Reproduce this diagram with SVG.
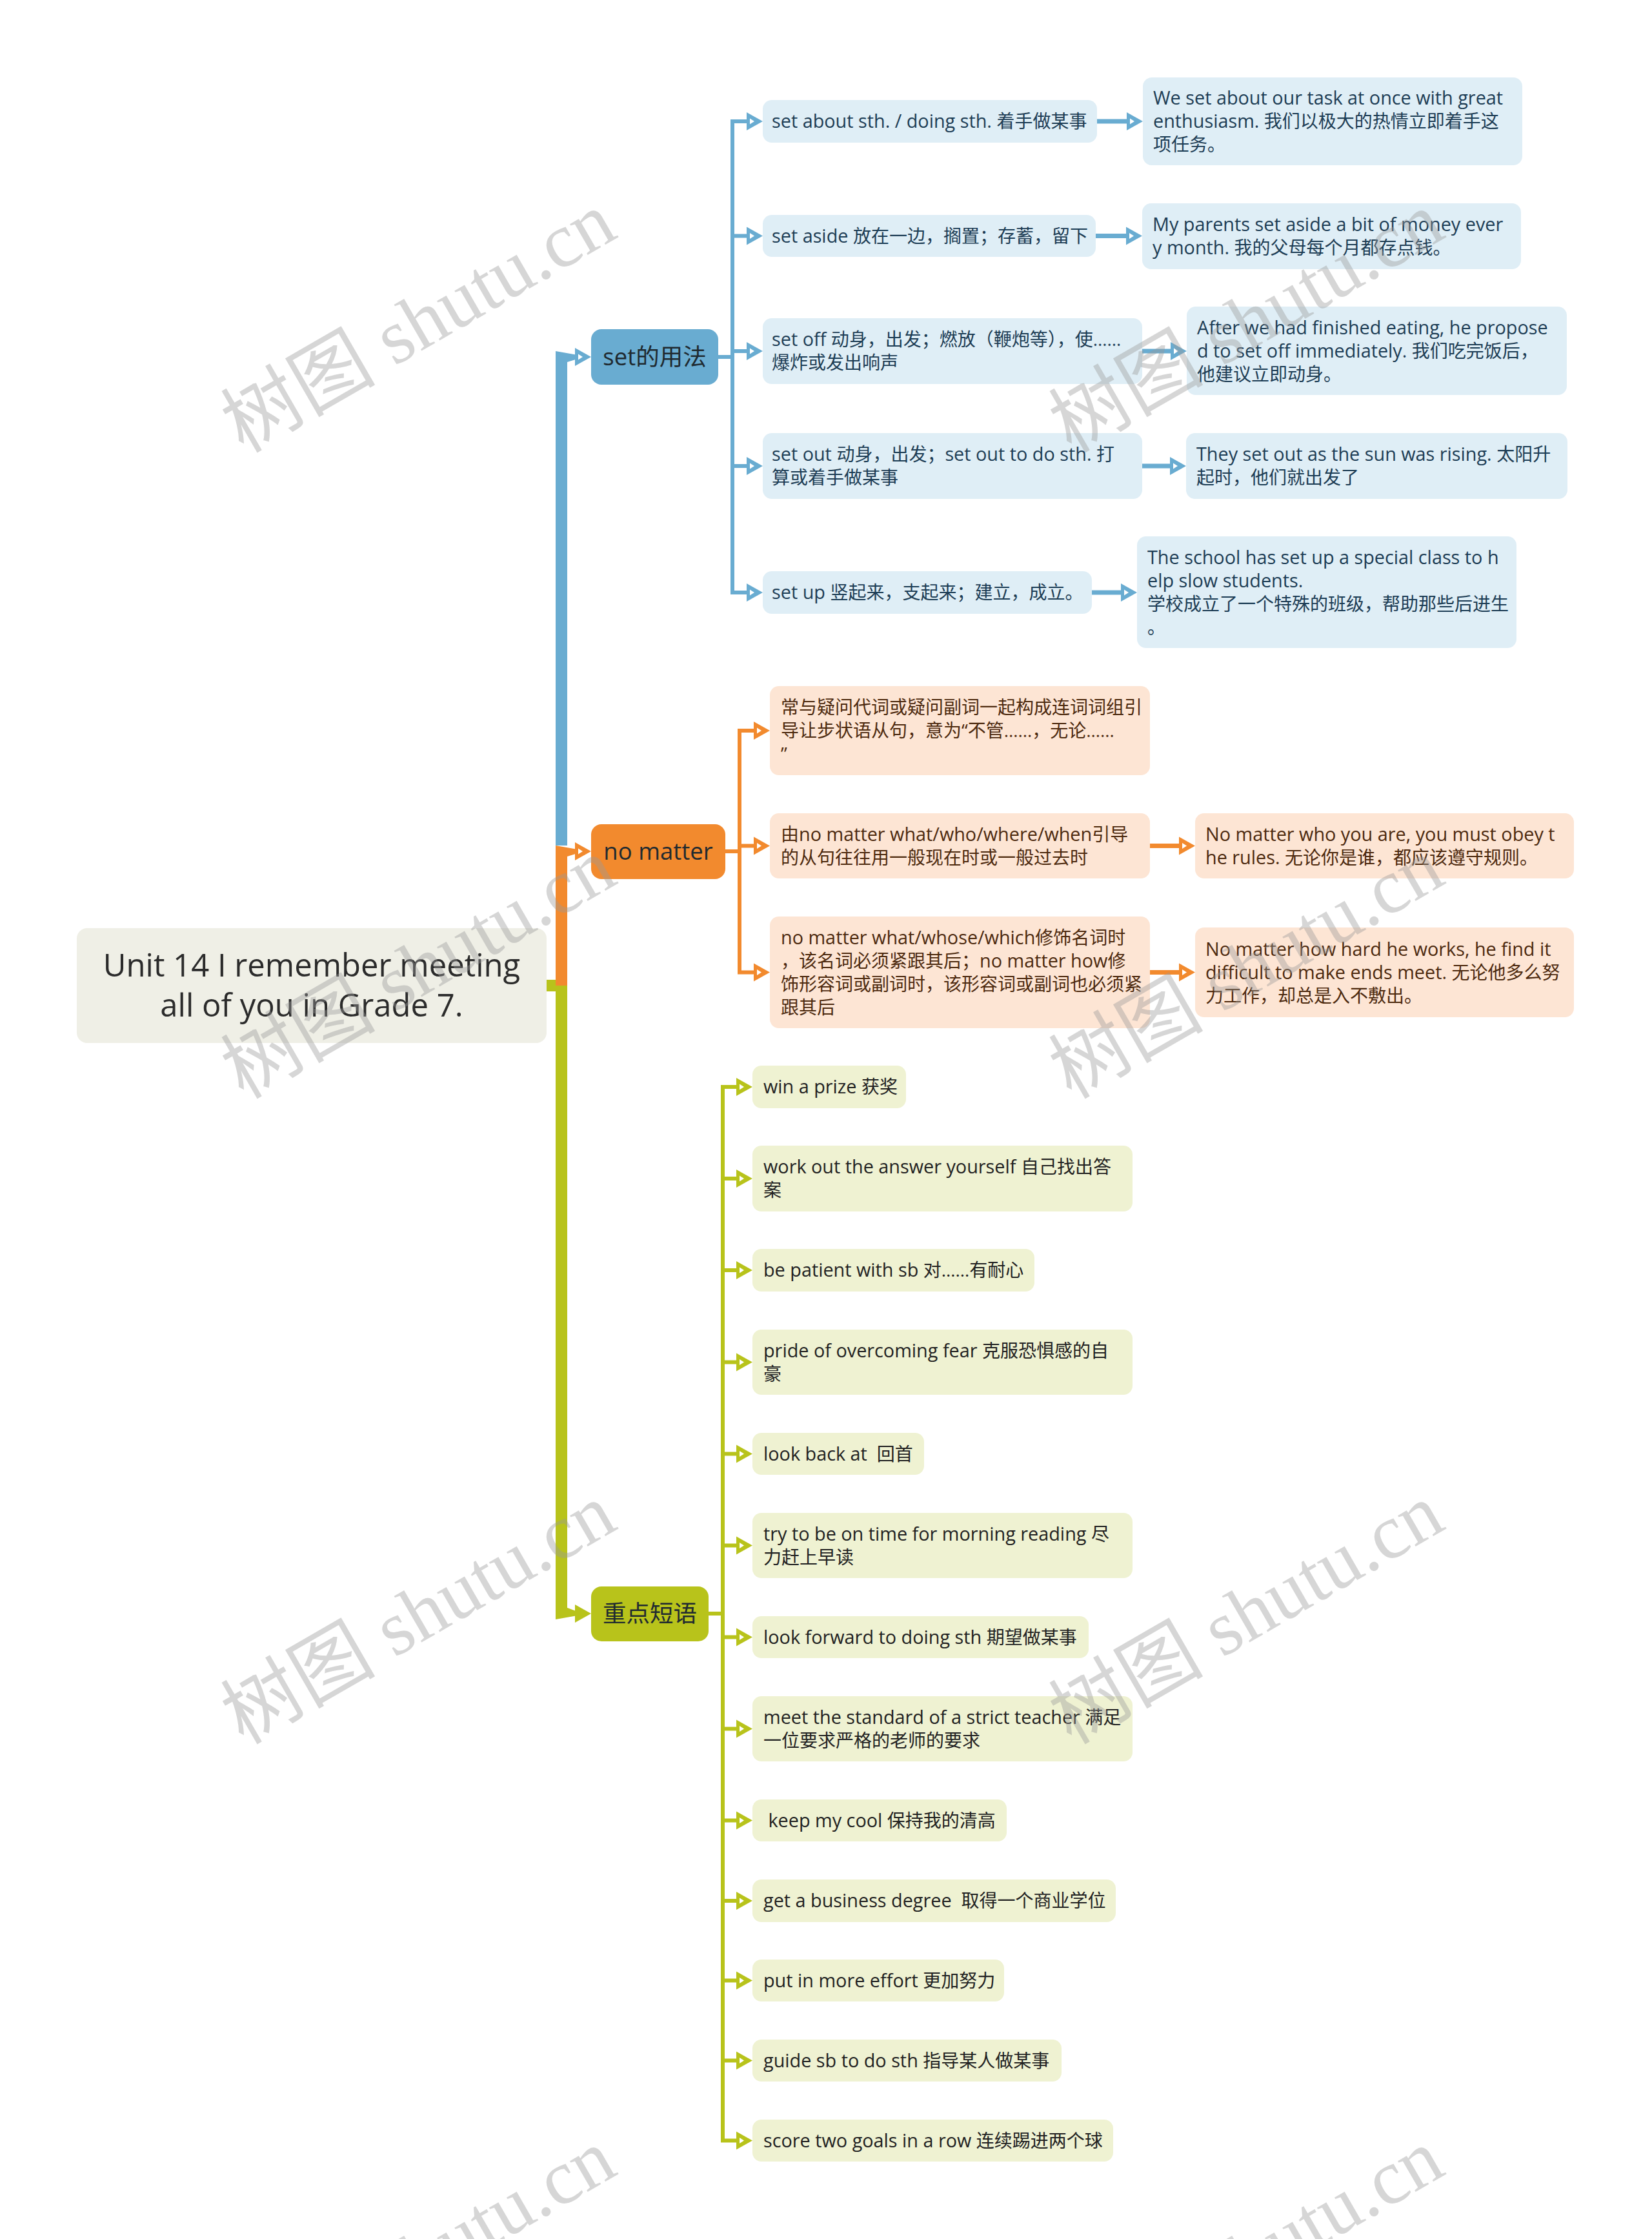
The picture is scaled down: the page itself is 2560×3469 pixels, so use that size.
<svg xmlns="http://www.w3.org/2000/svg" xmlns:xlink="http://www.w3.org/1999/xlink" width="2560" height="3469" viewBox="0 0 2560 3469">
<style>
text{font-family:"Open Sans","Noto Sans CJK SC",sans-serif;white-space:pre}
.t{font-size:28.8px}
.c{font-size:28px}
.tb{fill:#1d3d55}
.to{fill:#4d2a0f}
.tg{fill:#222}
.main{font-size:36.5px;fill:#1f2a30;text-anchor:middle}
.root{font-size:49px;fill:#2b2b2b;text-anchor:middle}
.cb{fill:#dfeef6}
.co{fill:#fde5d4}
.cg{fill:#eff2d2}
.lb{stroke:#69acd1;stroke-width:6;fill:none}
.lo{stroke:#f28a2e;stroke-width:6;fill:none}
.lg{stroke:#b8c31b;stroke-width:6;fill:none}
.wm{font-family:"Liberation Serif","Noto Sans CJK SC",serif;font-size:120px;fill:#9a9a9a;opacity:0.4}
</style>
<defs>
<g id="ah"><path d="M0,-14 L25,0 L0,14 Z" fill="currentColor"/><path d="M5,-4.5 L12,0 L5,4.5 Z" fill="#fff"/></g>
</defs>
<rect x="0" y="0" width="2560" height="3469" fill="#fff"/>

<g id="connectors">
<path d="M861,1310 L861,544 L895,550 L895,556 L879,561 L879,1310 Z" fill="#69acd1"/>
<use xlink:href="#ah" href="#ah" x="891" y="553" color="#69acd1"/>
<path d="M847,1518 L861,1518 L861,1310 L895,1316 L895,1322 L879,1327 L879,1527 L847,1527 Z" fill="#f28a2e"/>
<use xlink:href="#ah" href="#ah" x="891" y="1319" color="#f28a2e"/>
<path d="M847,1518 L861,1518 L861,1527 L879,1527 L879,2491 L895,2497 L895,2503 L861,2509 L861,1536 L847,1536 Z" fill="#b8c31b"/>
<path d="M891,2486 L916,2500 L891,2514 Z" fill="#b8c31b"/>

<path class="lb" d="M1113,553 H1138 M1135,185 V921 M1135,188 H1158 M1135,365.5 H1158 M1135,544 H1158 M1135,722 H1158 M1135,918 H1158"/>
<use xlink:href="#ah" href="#ah" x="1157" y="188" color="#69acd1"/>
<use xlink:href="#ah" href="#ah" x="1157" y="365.5" color="#69acd1"/>
<use xlink:href="#ah" href="#ah" x="1157" y="544" color="#69acd1"/>
<use xlink:href="#ah" href="#ah" x="1157" y="722" color="#69acd1"/>
<use xlink:href="#ah" href="#ah" x="1157" y="918" color="#69acd1"/>
<path class="lb" style="stroke-width:7" d="M1700,188 H1747 M1698,365.5 H1746 M1770,544 H1815 M1770,722 H1814 M1692,918 H1738"/>
<use xlink:href="#ah" href="#ah" x="1746" y="188" color="#69acd1"/>
<use xlink:href="#ah" href="#ah" x="1745" y="365.5" color="#69acd1"/>
<use xlink:href="#ah" href="#ah" x="1814" y="544" color="#69acd1"/>
<use xlink:href="#ah" href="#ah" x="1813" y="722" color="#69acd1"/>
<use xlink:href="#ah" href="#ah" x="1737" y="918" color="#69acd1"/>

<path class="lo" d="M1124,1319 H1149 M1146,1129 V1509.5 M1146,1132 H1169 M1146,1310.5 H1169 M1146,1506.5 H1169"/>
<use xlink:href="#ah" href="#ah" x="1168" y="1132" color="#f28a2e"/>
<use xlink:href="#ah" href="#ah" x="1168" y="1310.5" color="#f28a2e"/>
<use xlink:href="#ah" href="#ah" x="1168" y="1506.5" color="#f28a2e"/>
<path class="lo" style="stroke-width:7" d="M1782,1310.5 H1828 M1782,1506.5 H1828"/>
<use xlink:href="#ah" href="#ah" x="1827" y="1310.5" color="#f28a2e"/>
<use xlink:href="#ah" href="#ah" x="1827" y="1506.5" color="#f28a2e"/>

<path class="lg" d="M1098,2500 H1123 M1120,1681 V3319.5 M1120,1684 H1142 M1120,1826 H1142 M1120,1968 H1142 M1120,2110.5 H1142 M1120,2252.5 H1142 M1120,2394.5 H1142 M1120,2536.5 H1142 M1120,2678.5 H1142 M1120,2820.5 H1142 M1120,2945 H1142 M1120,3068.5 H1142 M1120,3192.5 H1142 M1120,3316.5 H1142"/>
<use xlink:href="#ah" href="#ah" x="1141" y="1684" color="#b8c31b"/>
<use xlink:href="#ah" href="#ah" x="1141" y="1826" color="#b8c31b"/>
<use xlink:href="#ah" href="#ah" x="1141" y="1968" color="#b8c31b"/>
<use xlink:href="#ah" href="#ah" x="1141" y="2110.5" color="#b8c31b"/>
<use xlink:href="#ah" href="#ah" x="1141" y="2252.5" color="#b8c31b"/>
<use xlink:href="#ah" href="#ah" x="1141" y="2394.5" color="#b8c31b"/>
<use xlink:href="#ah" href="#ah" x="1141" y="2536.5" color="#b8c31b"/>
<use xlink:href="#ah" href="#ah" x="1141" y="2678.5" color="#b8c31b"/>
<use xlink:href="#ah" href="#ah" x="1141" y="2820.5" color="#b8c31b"/>
<use xlink:href="#ah" href="#ah" x="1141" y="2945" color="#b8c31b"/>
<use xlink:href="#ah" href="#ah" x="1141" y="3068.5" color="#b8c31b"/>
<use xlink:href="#ah" href="#ah" x="1141" y="3192.5" color="#b8c31b"/>
<use xlink:href="#ah" href="#ah" x="1141" y="3316.5" color="#b8c31b"/>
</g>

<g id="root">
<rect x="119" y="1438" width="728" height="178" rx="16" fill="#efefe6"/>
<text class="root" x="483" y="1513">Unit 14 I remember meeting</text>
<text class="root" x="483" y="1575">all of you in Grade 7.</text>
</g>

<g id="n-set">
<rect x="916" y="510" width="197" height="86" rx="16" fill="#69acd1"/>
<text class="main" x="1014.5" y="566">set的用法</text>
</g>
<g id="n-nomatter">
<rect x="916" y="1277" width="208" height="85" rx="16" fill="#f28a2e"/>
<text class="main" x="1020" y="1332">no matter</text>
</g>
<g id="n-key">
<rect x="916" y="2458" width="182" height="85" rx="16" fill="#b8c31b"/>
<text class="main" x="1007" y="2513">重点短语</text>
</g>

<g id="set-about"><rect class="cb" x="1182" y="155" width="518" height="66" rx="14"/>
<text class="t tb" x="1196" y="198">set about sth. / doing sth. <tspan class="c">着手做某事</tspan></text></g>
<g id="set-about-ex"><rect class="cb" x="1771" y="120" width="588" height="136" rx="14"/>
<text class="t tb" x="1787" y="162">We set about our task at once with great</text>
<text class="t tb" x="1787" y="198">enthusiasm. <tspan class="c">我们以极大的热情立即着手这</tspan></text>
<text class="t tb c" x="1787" y="234">项任务。</text></g>

<g id="set-aside"><rect class="cb" x="1182" y="333" width="516" height="65" rx="14"/>
<text class="t tb" x="1196" y="376">set aside <tspan class="c">放在一边，搁置；存蓄，留下</tspan></text></g>
<g id="set-aside-ex"><rect class="cb" x="1770" y="315" width="587" height="102" rx="14"/>
<text class="t tb" x="1786" y="358">My parents set aside a bit of money ever</text>
<text class="t tb" x="1786" y="394">y month. <tspan class="c">我的父母每个月都存点钱。</tspan></text></g>

<g id="set-off"><rect class="cb" x="1182" y="493" width="588" height="102" rx="14"/>
<text class="t tb" x="1196" y="536">set off <tspan class="c">动身，出发；燃放（鞭炮等），使……</tspan></text>
<text class="t tb c" x="1196" y="572">爆炸或发出响声</text></g>
<g id="set-off-ex"><rect class="cb" x="1839" y="475" width="589" height="137" rx="14"/>
<text class="t tb" x="1855" y="518">After we had finished eating, he propose</text>
<text class="t tb" x="1855" y="554">d to set off immediately. <tspan class="c">我们吃完饭后，</tspan></text>
<text class="t tb c" x="1855" y="590">他建议立即动身。</text></g>

<g id="set-out"><rect class="cb" x="1182" y="671" width="588" height="102" rx="14"/>
<text class="t tb" x="1196" y="714">set out <tspan class="c">动身，出发；</tspan>set out to do sth. <tspan class="c">打</tspan></text>
<text class="t tb c" x="1196" y="750">算或着手做某事</text></g>
<g id="set-out-ex"><rect class="cb" x="1838" y="671" width="591" height="102" rx="14"/>
<text class="t tb" x="1854" y="714">They set out as the sun was rising. <tspan class="c">太阳升</tspan></text>
<text class="t tb c" x="1854" y="750">起时，他们就出发了</text></g>

<g id="set-up"><rect class="cb" x="1182" y="885" width="510" height="66" rx="14"/>
<text class="t tb" x="1196" y="928">set up <tspan class="c">竖起来，支起来；建立，成立。</tspan></text></g>
<g id="set-up-ex"><rect class="cb" x="1762" y="831" width="588" height="173" rx="14"/>
<text class="t tb" x="1778" y="874">The school has set up a special class to h</text>
<text class="t tb" x="1778" y="910">elp slow students.</text>
<text class="t tb c" x="1778" y="946">学校成立了一个特殊的班级，帮助那些后进生</text>
<text class="t tb c" x="1778" y="982">。</text></g>

<g id="nm-1"><rect class="co" x="1193" y="1063" width="589" height="138" rx="14"/>
<text class="t to c" x="1210" y="1106">常与疑问代词或疑问副词一起构成连词词组引</text>
<text class="t to c" x="1210" y="1142">导让步状语从句，意为“不管……，无论……</text>
<text class="t to c" x="1210" y="1178">”</text></g>

<g id="nm-2"><rect class="co" x="1193" y="1260" width="589" height="101" rx="14"/>
<text class="t to" x="1210" y="1303"><tspan class="c">由</tspan>no matter what/who/where/when<tspan class="c">引导</tspan></text>
<text class="t to c" x="1210" y="1339">的从句往往用一般现在时或一般过去时</text></g>
<g id="nm-2-ex"><rect class="co" x="1852" y="1260" width="587" height="101" rx="14"/>
<text class="t to" x="1868" y="1303">No matter who you are, you must obey t</text>
<text class="t to" x="1868" y="1339">he rules. <tspan class="c">无论你是谁，都应该遵守规则。</tspan></text></g>

<g id="nm-3"><rect class="co" x="1193" y="1420" width="589" height="173" rx="14"/>
<text class="t to" x="1210" y="1463">no matter what/whose/which<tspan class="c">修饰名词时</tspan></text>
<text class="t to" x="1210" y="1499"><tspan class="c">，该名词必须紧跟其后；</tspan>no matter how<tspan class="c">修</tspan></text>
<text class="t to c" x="1210" y="1535">饰形容词或副词时，该形容词或副词也必须紧</text>
<text class="t to c" x="1210" y="1571">跟其后</text></g>
<g id="nm-3-ex"><rect class="co" x="1852" y="1437" width="587" height="139" rx="14"/>
<text class="t to" x="1868" y="1481">No matter how hard he works, he find it</text>
<text class="t to" x="1868" y="1517">difficult to make ends meet. <tspan class="c">无论他多么努</tspan></text>
<text class="t to c" x="1868" y="1553">力工作，却总是入不敷出。</text></g>

<g id="kp-1"><rect class="cg" x="1166" y="1651" width="238" height="66" rx="14"/>
<text class="t tg" x="1183" y="1694">win a prize <tspan class="c">获奖</tspan></text></g>
<g id="kp-2"><rect class="cg" x="1166" y="1775" width="589" height="102" rx="14"/>
<text class="t tg" x="1183" y="1818">work out the answer yourself <tspan class="c">自己找出答</tspan></text>
<text class="t tg c" x="1183" y="1854">案</text></g>
<g id="kp-3"><rect class="cg" x="1166" y="1935" width="437" height="66" rx="14"/>
<text class="t tg" x="1183" y="1978">be patient with sb <tspan class="c">对……有耐心</tspan></text></g>
<g id="kp-4"><rect class="cg" x="1166" y="2060" width="589" height="101" rx="14"/>
<text class="t tg" x="1183" y="2102.5">pride of overcoming fear <tspan class="c">克服恐惧感的自</tspan></text>
<text class="t tg c" x="1183" y="2138.5">豪</text></g>
<g id="kp-5"><rect class="cg" x="1166" y="2220" width="266" height="65" rx="14"/>
<text class="t tg" x="1183" y="2262.5">look back at  <tspan class="c">回首</tspan></text></g>
<g id="kp-6"><rect class="cg" x="1166" y="2344" width="589" height="101" rx="14"/>
<text class="t tg" x="1183" y="2386.5">try to be on time for morning reading <tspan class="c">尽</tspan></text>
<text class="t tg c" x="1183" y="2422.5">力赶上早读</text></g>
<g id="kp-7"><rect class="cg" x="1166" y="2504" width="521" height="65" rx="14"/>
<text class="t tg" x="1183" y="2546.5">look forward to doing sth <tspan class="c">期望做某事</tspan></text></g>
<g id="kp-8"><rect class="cg" x="1166" y="2628" width="589" height="101" rx="14"/>
<text class="t tg" x="1183" y="2670.5">meet the standard of a strict teacher <tspan class="c">满足</tspan></text>
<text class="t tg c" x="1183" y="2706.5">一位要求严格的老师的要求</text></g>
<g id="kp-9"><rect class="cg" x="1166" y="2788" width="394" height="65" rx="14"/>
<text class="t tg" x="1183" y="2830.5"> keep my cool <tspan class="c">保持我的清高</tspan></text></g>
<g id="kp-10"><rect class="cg" x="1166" y="2912" width="563" height="66" rx="14"/>
<text class="t tg" x="1183" y="2955">get a business degree  <tspan class="c">取得一个商业学位</tspan></text></g>
<g id="kp-11"><rect class="cg" x="1166" y="3036" width="390" height="65" rx="14"/>
<text class="t tg" x="1183" y="3078.5">put in more effort <tspan class="c">更加努力</tspan></text></g>
<g id="kp-12"><rect class="cg" x="1166" y="3160" width="479" height="65" rx="14"/>
<text class="t tg" x="1183" y="3202.5">guide sb to do sth <tspan class="c">指导某人做某事</tspan></text></g>
<g id="kp-13"><rect class="cg" x="1166" y="3284" width="559" height="65" rx="14"/>
<text class="t tg" x="1183" y="3326.5">score two goals in a row <tspan class="c">连续踢进两个球</tspan></text></g>

<g id="watermarks">
<text class="wm" transform="translate(377,703) rotate(-30)">树图 shutu.cn</text>
<text class="wm" transform="translate(1660,703) rotate(-30)">树图 shutu.cn</text>
<text class="wm" transform="translate(377,1704) rotate(-30)">树图 shutu.cn</text>
<text class="wm" transform="translate(1660,1704) rotate(-30)">树图 shutu.cn</text>
<text class="wm" transform="translate(377,2704) rotate(-30)">树图 shutu.cn</text>
<text class="wm" transform="translate(1660,2704) rotate(-30)">树图 shutu.cn</text>
<text class="wm" transform="translate(377,3704) rotate(-30)">树图 shutu.cn</text>
<text class="wm" transform="translate(1660,3704) rotate(-30)">树图 shutu.cn</text>
</g>
</svg>
